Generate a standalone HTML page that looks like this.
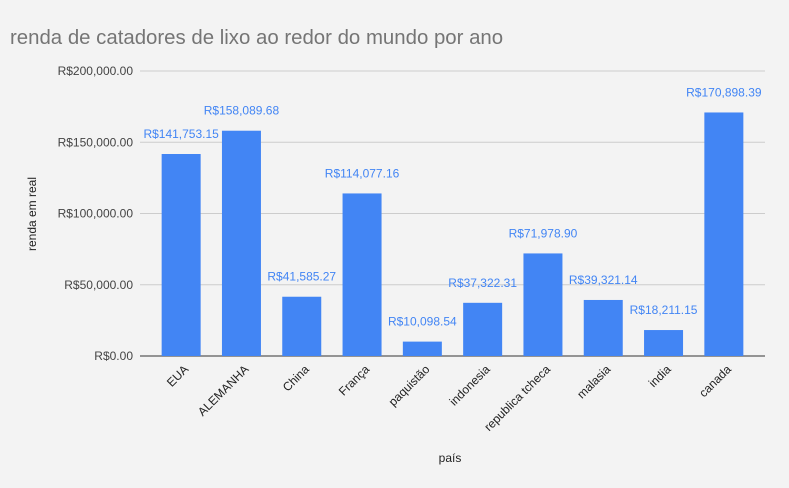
<!DOCTYPE html>
<html><head><meta charset="utf-8"><style>
body{margin:0;background:#f3f3f3;}
svg{display:block;font-family:"Liberation Sans",Roboto,sans-serif;}
</style></head><body>
<svg id="c" width="789" height="488">
<rect width="789" height="488" fill="#f3f3f3"/>
<text x="10" y="44" font-size="20.4" fill="#757575">renda de catadores de lixo ao redor do mundo por ano</text>
<text x="450" y="462" font-size="12" fill="#222" text-anchor="middle">país</text>
<text transform="translate(36,214) rotate(-90)" font-size="12" fill="#222" text-anchor="middle">renda em real</text>
<g id="grid"></g><g id="bars"></g><g id="labels"></g>
</svg>
<script>
const categories=["EUA","ALEMANHA","China","França","paquistão","indonesia","republica tcheca","malasia","india","canada"];
const values=[141753.15,158089.68,41585.27,114077.16,10098.54,37322.31,71978.90,39321.14,18211.15,170898.39];
const valueLabels=["R$141,753.15","R$158,089.68","R$41,585.27","R$114,077.16","R$10,098.54","R$37,322.31","R$71,978.90","R$39,321.14","R$18,211.15","R$170,898.39"];
const ticks=[0,50000,100000,150000,200000];
const tickLabels=["R$0.00","R$50,000.00","R$100,000.00","R$150,000.00","R$200,000.00"];
const NS="http://www.w3.org/2000/svg";
const x0=151,x1=754,yb=356,yt=71,ymax=200000;
const y=v=>yb-(v/ymax)*(yb-yt);
const step=(x1-x0)/categories.length;
const xc=i=>x0+step*(i+0.5);
function mk(t,a,p){const e=document.createElementNS(NS,t);for(const k in a)e.setAttribute(k,a[k]);p.appendChild(e);return e;}
const g=document.getElementById('grid'),b=document.getElementById('bars'),l=document.getElementById('labels');
ticks.forEach((t,i)=>{
 const ln=mk('line',{x1:140,x2:765,y1:y(t),y2:y(t),stroke:i==0?'#333':'#ccc','stroke-width':1},g);
 
 
 const tx=mk('text',{x:133,y:y(t)+4,'font-size':12,fill:'#444','text-anchor':'end'},g);
 tx.textContent=tickLabels[i];
 
 
});
categories.forEach((c,i)=>{
 const r=mk('rect',{x:xc(i)-19.5,y:y(values[i]),width:39,height:yb-y(values[i]),fill:'#4285f4'},b);
 
 
 const v=mk('text',{x:xc(i),y:y(values[i])-16,'font-size':12,fill:'#4285f4','text-anchor':'middle'},l);
 v.textContent=valueLabels[i];
 
 
 const tx=mk('text',{transform:`translate(${xc(i)+8},${yb+14}) rotate(-45)`,'font-size':12,fill:'#222','text-anchor':'end'},l);
 tx.textContent=c;
 
 
});
</script>
</body></html>
